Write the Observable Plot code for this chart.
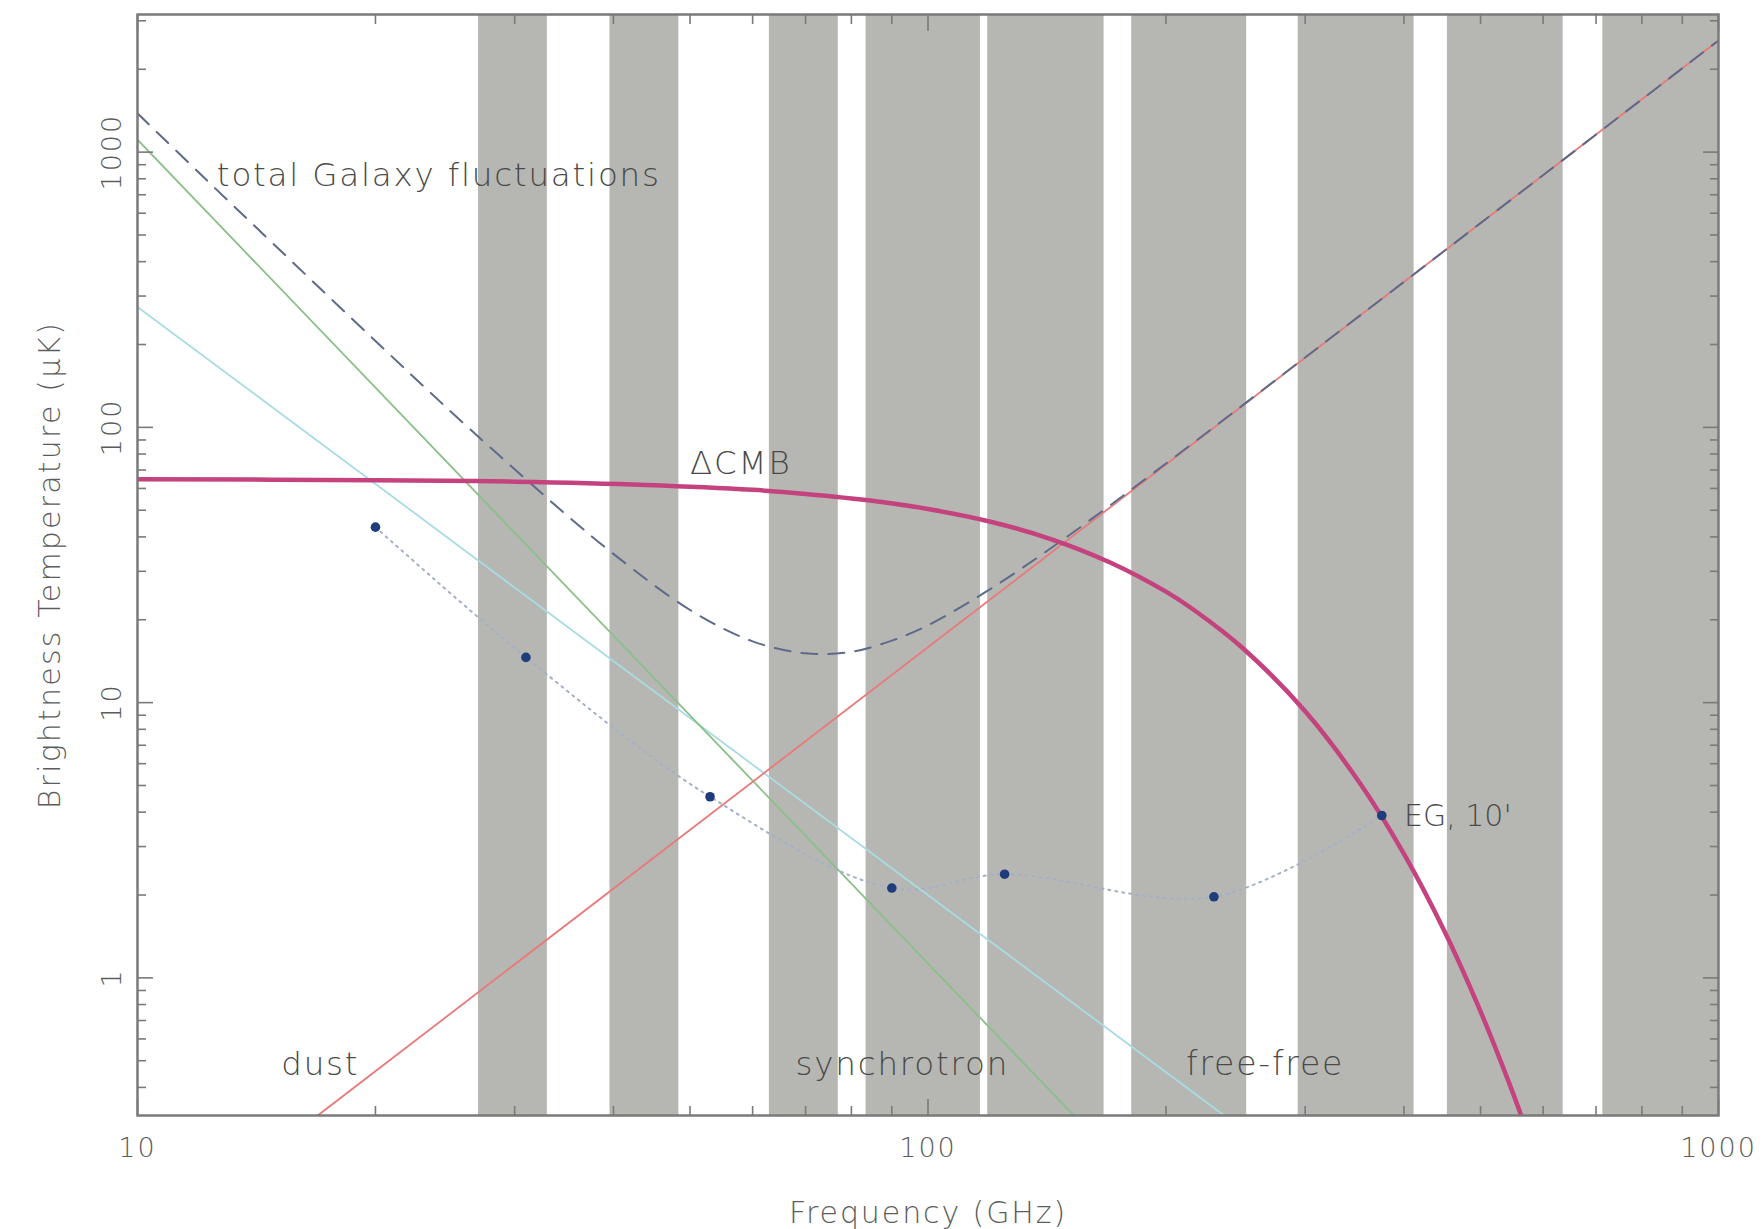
<!DOCTYPE html>
<html><head><meta charset="utf-8">
<script src="https://cdn.jsdelivr.net/npm/d3@7"></script>
<script src="https://cdn.jsdelivr.net/npm/@observablehq/plot@0.6"></script>
<style>
html,body{margin:0;padding:0;background:#fff;overflow:hidden;}
#chart svg{display:block;}
</style></head><body><div id="chart"></div>
<script>
// Planck frequency bands (GHz)
const bandLo = [27, 39.6, 63, 83.5, 119, 181, 294, 454, 714];
const bandHi = [33, 48.4, 77, 116.5, 167, 253, 412, 636, 1000];

// ΔCMB brightness temperature curve (μK)
const cmbFreq = [10, 20, 30, 44, 60, 70, 85, 100, 120, 143, 170, 200, 217, 250, 300, 353, 400, 450, 500, 545, 570];
const cmbT    = [64.8, 64.3, 63.5, 61.8, 59.3, 57.3, 54.1, 50.5, 45.4, 39.3, 32.3, 25.3, 21.7, 15.8, 9.3, 5.03, 2.82, 1.48, 0.755, 0.406, 0.286];

// total Galaxy fluctuations (dashed)
const totalFreq = [10, 12, 15, 20, 25, 30, 35, 40, 50, 60, 70, 80, 90, 100, 120, 150, 200, 300, 500, 1000];
const totalT    = [1384, 834, 452, 206, 113, 70.4, 47.7, 34.7, 21.7, 16.7, 15.1, 15.3, 16.8, 19.1, 25.9, 40.1, 73.9, 179.5, 552, 2544];

// individual components (straight in log-log)
const dustFreq  = [16.9, 1000];
const dustT     = [0.316, 2544];
const synchFreq = [10, 153];
const synchT    = [1110, 0.316];
const ffFreq    = [10, 237];
const ffT       = [274, 0.316];

// extragalactic sources, 10'
const egFreq = [20, 31, 53, 90, 125, 230, 375];
const egT    = [43.4, 14.6, 4.55, 2.12, 2.38, 1.97, 3.89];

// annotations
const annText = ["total Galaxy fluctuations", "ΔCMB", "dust", "synchrotron", "free-free", "EG, 10'"];
const annFreq = [12.6, 50, 15.2, 68, 212, 400];
const annT    = [755, 67.6, 0.445, 0.445, 0.445, 3.57];
const annSize = [32.5, 32.5, 32.5, 32.5, 33, 30];

// ticks
const xMajor = [10, 100, 1000];
const xMinor = [20, 30, 40, 50, 60, 70, 80, 90, 200, 300, 400, 500, 600, 700, 800, 900];
const yMajor = [1, 10, 100, 1000];
const yMinor = [0.4, 0.5, 0.6, 0.7, 0.8, 0.9, 2, 3, 4, 5, 6, 7, 8, 9, 20, 30, 40, 50, 60, 70, 80, 90, 200, 300, 400, 500, 600, 700, 800, 900, 2000, 3000];

const xLabel = "Frequency (GHz)";
const yLabel = "Brightness Temperature (μK)";

const bands = bandLo.map((lo, i) => ({lo, hi: bandHi[i]}));
const pts = (fs, ts) => fs.map((f, i) => ({f, t: ts[i]}));

const axisColor = "#7a7a7a";
const textColor = "#5c5c5c";
const tickOnly = {tickFormat: () => "", label: null, stroke: axisColor, strokeWidth: 1.6};

const chart = Plot.plot({
  width: 1762,
  height: 1229,
  marginLeft: 137,
  marginRight: 44,
  marginTop: 14,
  marginBottom: 114,
  style: {fontFamily: "DejaVu Sans", fontSize: "27px", fontWeight: 300, color: textColor, background: "#fff", letterSpacing: "2px"},
  x: {type: "log", domain: [10, 1000]},
  y: {type: "log", domain: [Math.pow(10, -0.5), Math.pow(10, 3.5)]},
  marks: [
    Plot.rect(bands, {x1: "lo", x2: "hi", fill: "#b6b7b2"}),
    Plot.line(pts(ffFreq, ffT), {x: "f", y: "t", stroke: "#a9dbe3", strokeWidth: 1.8, clip: true}),
    Plot.line(pts(synchFreq, synchT), {x: "f", y: "t", stroke: "#88c088", strokeWidth: 1.8, clip: true}),
    Plot.line(pts(dustFreq, dustT), {x: "f", y: "t", stroke: "#e77a7a", strokeWidth: 1.8, clip: true}),
    Plot.line(pts(totalFreq, totalT), {x: "f", y: "t", stroke: "#5d6a8a", strokeWidth: 2, strokeDasharray: "16,11", curve: "catmull-rom", clip: true}),
    Plot.line(pts(egFreq, egT), {x: "f", y: "t", stroke: "#a3b0c6", strokeWidth: 2, strokeDasharray: "2,5", curve: "catmull-rom", clip: true}),
    Plot.line(pts(cmbFreq, cmbT), {x: "f", y: "t", stroke: "#c4437f", strokeWidth: 4.5, curve: "catmull-rom", clip: true}),
    Plot.dot(pts(egFreq, egT), {x: "f", y: "t", r: 4.8, fill: "#1f3c7c", stroke: "none"}),
    Plot.text(annText, {x: (d, i) => annFreq[i], y: (d, i) => annT[i], text: d => d, fontSize: (d, i) => annSize[i], textAnchor: "start", lineAnchor: "bottom", fill: "#4a4a4a"}),
    Plot.frame({stroke: axisColor, strokeWidth: 2.5}),
    // inward ticks on all four sides
    Plot.axisX(xMajor, {anchor: "bottom", tickSize: -16, ...tickOnly}),
    Plot.axisX(xMinor, {anchor: "bottom", tickSize: -9, ...tickOnly}),
    Plot.axisX(xMajor, {anchor: "top", tickSize: -16, ...tickOnly}),
    Plot.axisX(xMinor, {anchor: "top", tickSize: -9, ...tickOnly}),
    Plot.axisY(yMajor, {anchor: "left", tickSize: -16, ...tickOnly}),
    Plot.axisY(yMinor, {anchor: "left", tickSize: -9, ...tickOnly}),
    Plot.axisY(yMajor, {anchor: "right", tickSize: -16, ...tickOnly}),
    Plot.axisY(yMinor, {anchor: "right", tickSize: -9, ...tickOnly}),
    // tick labels
    Plot.axisX(xMajor, {anchor: "bottom", tickSize: 0, tickPadding: 22, tickFormat: d => String(d), label: null, fill: textColor, fontSize: 27}),
    Plot.axisY(yMajor, {anchor: "left", tickSize: 0, tickPadding: 17, tickRotate: -90, tickFormat: d => String(d), label: null, fill: textColor, fontSize: 27}),
    // axis titles
    Plot.text([xLabel], {frameAnchor: "bottom", dy: 107, textAnchor: "middle", lineAnchor: "bottom", fontSize: 30, fill: textColor}),
    Plot.text([yLabel], {frameAnchor: "left", dx: -87, rotate: -90, textAnchor: "middle", lineAnchor: "middle", fontSize: 30, fill: textColor})
  ]
});
// letter spacing per text role (the reference's vector font is widely spaced)
d3.select(chart).selectAll("text").each(function () {
  const s = this.textContent;
  let ls = 2;
  if (annText.includes(s)) ls = 1.8;
  if (s === "EG, 10'") ls = 0;
  if (s === xLabel) ls = 1.9;
  if (s === yLabel) ls = 2.2;
  this.setAttribute("letter-spacing", ls + "px");
  this.style.letterSpacing = ls + "px";
});
document.getElementById("chart").appendChild(chart);
</script>
</body></html>
